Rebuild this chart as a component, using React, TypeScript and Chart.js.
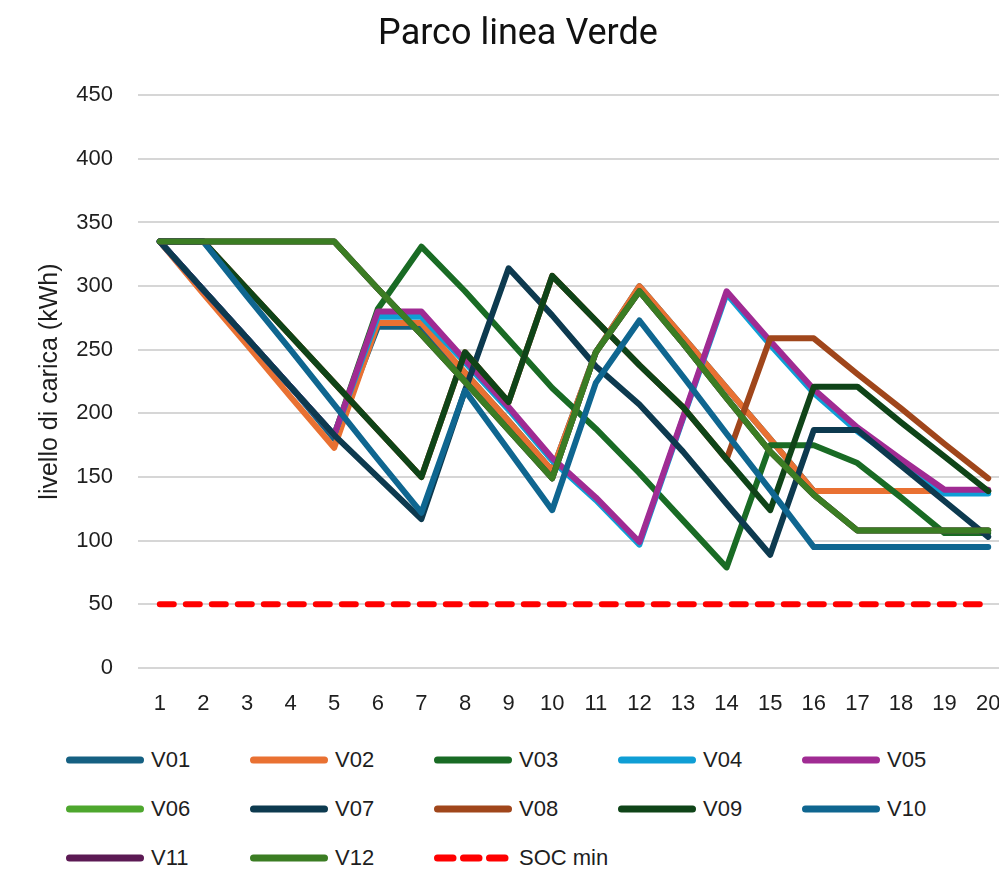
import React, { useEffect, useRef } from 'react';
import { Chart, registerables } from 'chart.js';

Chart.register(...registerables);

const categories = ['1', '2', '3', '4', '5', '6', '7', '8', '9', '10', '11', '12', '13', '14', '15', '16', '17', '18', '19', '20'];

const V01 = [335, 297, 259, 221, 180, 268, 268, 232, 194, 155, 248, 300, 260, 220, 180, 139, 139, 139, 139, 139];
const V02 = [335, 294, 254, 213, 173, 271, 271, 232, 194, 155, 248, 300, 260, 220, 180, 139, 139, 139, 139, 139];
const V03 = [335, 297, 259, 221, 183, 282, 331, 296, 258, 220, 188, 153, 116, 79, 175, 175, 161, 134, 106, 106];
const V04 = [335, 297, 259, 221, 183, 276, 276, 240, 203, 163, 132, 97, 196, 294, 254, 216, 186, 161, 137, 137];
const V05 = [335, 297, 259, 221, 183, 280, 280, 242, 205, 165, 134, 99, 197, 296, 257, 219, 189, 164, 140, 140];
const V06 = [335, 335, 335, 335, 335, 298, 262, 225, 187, 149, 248, 296, 255, 212, 170, 136, 108, 108, 108, 108];
const V07 = [335, 297, 259, 221, 183, 150, 117, 218, 314, 277, 237, 207, 170, 129, 89, 187, 187, 159, 131, 103];
const V08 = [335, 335, 298, 261, 224, 187, 150, 248, 209, 308, 273, 238, 205, 164, 259, 259, 231, 204, 176, 149];
const V09 = [335, 335, 298, 261, 224, 187, 150, 248, 209, 308, 273, 238, 205, 164, 124, 221, 221, 193, 166, 139];
const V10 = [335, 335, 292, 250, 207, 164, 122, 218, 171, 124, 224, 273, 229, 184, 140, 95, 95, 95, 95, 95];
const V11 = [335, 335, 335, 335, 335, 298, 262, 225, 187, 149, 248, 296, 255, 212, 170, 136, 108, 108, 108, 108];
const V12 = [335, 335, 335, 335, 335, 298, 262, 225, 187, 149, 248, 296, 255, 212, 170, 136, 108, 108, 108, 108];
const SOC_MIN = [50, 50, 50, 50, 50, 50, 50, 50, 50, 50, 50, 50, 50, 50, 50, 50, 50, 50, 50, 50];

const seriesNames = ['V01', 'V02', 'V03', 'V04', 'V05', 'V06', 'V07', 'V08', 'V09', 'V10', 'V11', 'V12', 'SOC min'];
const seriesValues = [V01, V02, V03, V04, V05, V06, V07, V08, V09, V10, V11, V12, SOC_MIN];
const seriesColors = ['#156082', '#E97132', '#196B24', '#0F9ED5', '#A02B93', '#4EA72E', '#0D3A4F', '#A0461B', '#0F4418', '#0F6690', '#5C1A54', '#3B7D23', '#FF0000'];

const yTicks = [0, 50, 100, 150, 200, 250, 300, 350, 400, 450];

const TITLE = 'Parco linea Verde';
const Y_TITLE = 'livello di carica (kWh)';

const TEXT_FONT = "'Liberation Sans', Arial, sans-serif";

export default function App() {
  const ref = useRef<HTMLCanvasElement>(null);

  useEffect(() => {
    const canvas = ref.current;
    if (!canvas) return;
    const n = seriesNames.length;
    const datasets = seriesNames.map((name, i) => {
      const isSoc = i === n - 1;
      return {
        label: name,
        data: seriesValues[i],
        borderColor: seriesColors[i],
        backgroundColor: seriesColors[i],
        borderWidth: 6,
        borderDash: isSoc ? [14, 12] : [],
        borderCapStyle: 'round' as const,
        borderJoinStyle: 'round' as const,
        pointRadius: 0,
        pointHoverRadius: 0,
        tension: 0,
        fill: false,
        order: n - 1 - i,
      };
    });

    const chart = new Chart(canvas, {
      type: 'line',
      data: { labels: categories, datasets },
      options: {
        responsive: false,
        animation: false,
        devicePixelRatio: 1,
        layout: { padding: { left: 26, right: 26, top: 0, bottom: 0 } },
        plugins: {
          legend: { display: false },
          tooltip: { enabled: false },
          title: {
            display: true,
            text: TITLE,
            color: '#111111',
            font: { family: 'Roboto, sans-serif', size: 36, weight: 'normal' },
            padding: { top: 13, bottom: 39 },
          },
        },
        scales: {
          x: {
            type: 'category',
            offset: true,
            grid: { display: false },
            border: { display: false },
            ticks: {
              color: '#1e1e1e',
              font: { family: TEXT_FONT, size: 22 },
              padding: 15,
              maxRotation: 0,
              autoSkip: false,
            },
            afterFit: (s: any) => {
              s.height = 62;
            },
          },
          y: {
            min: yTicks[0],
            max: yTicks[yTicks.length - 1],
            afterBuildTicks: (s: any) => {
              s.ticks = yTicks.map((v) => ({ value: v }));
            },
            grid: { color: '#D6D6D6', lineWidth: 2, drawTicks: false },
            border: { display: false },
            ticks: {
              color: '#1e1e1e',
              font: { family: TEXT_FONT, size: 22 },
              padding: 25,
            },
            title: {
              display: true,
              text: Y_TITLE,
              color: '#1e1e1e',
              font: { family: TEXT_FONT, size: 25, weight: 'normal' },
              padding: { top: 9, bottom: 0 },
            },
            afterFit: (s: any) => {
              s.width = 112;
            },
          },
        },
      },
    });
    return () => chart.destroy();
  }, []);

  const colLeft = [66, 250, 434, 618, 802];
  const rowCenter = [760, 809, 858];

  return (
    <div
      style={{
        position: 'fixed',
        left: 0,
        top: 0,
        width: 999,
        height: 870,
        overflow: 'hidden',
        background: '#ffffff',
      }}
    >
      <canvas
        ref={ref}
        width={1036}
        height={730}
        style={{ position: 'absolute', left: 0, top: 0, width: 1036, height: 730 }}
      />
      {seriesNames.map((name, i) => {
        const left = colLeft[i % 5];
        const cy = rowCenter[Math.floor(i / 5)];
        const isSoc = i === seriesNames.length - 1;
        return (
          <div key={name}>
            <svg
              width={78}
              height={12}
              style={{ position: 'absolute', left, top: cy - 6 }}
            >
              <line
                x1={3.5}
                y1={6}
                x2={isSoc ? 71.5 : 74.5}
                y2={6}
                stroke={seriesColors[i]}
                strokeWidth={7}
                strokeLinecap="round"
                strokeDasharray={isSoc ? '15.5 10.5' : undefined}
              />
            </svg>
            <div
              style={{
                position: 'absolute',
                left: left + 85,
                top: cy - 13,
                height: 26,
                lineHeight: '26px',
                fontFamily: TEXT_FONT,
                fontSize: 22,
                color: '#1e1e1e',
                whiteSpace: 'nowrap',
              }}
            >
              {name}
            </div>
          </div>
        );
      })}
    </div>
  );
}
